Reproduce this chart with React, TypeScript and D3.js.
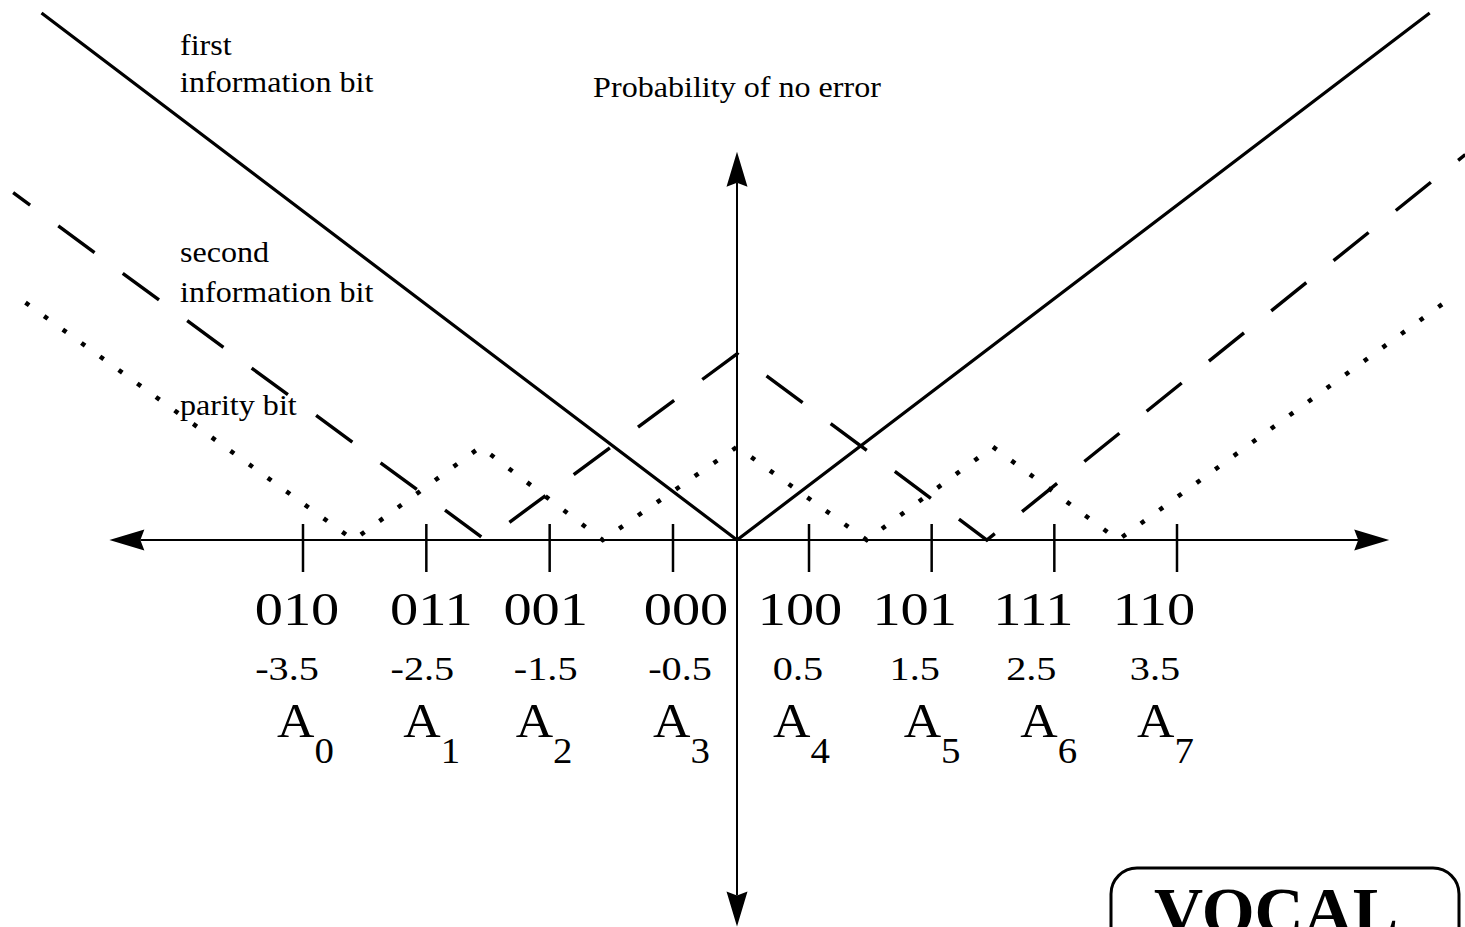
import React from "react";
import * as d3 from "d3";

// symbol labels under the amplitude axis
const codes = ["010", "011", "001", "000", "100", "101", "111", "110"];
const amplitudes = [-3.5, -2.5, -1.5, -0.5, 0.5, 1.5, 2.5, 3.5];
const subscripts = ["0", "1", "2", "3", "4", "5", "6", "7"];

// probability of no error, per bit (x = amplitude, y = relative value)
const firstBitX = [-5.62, 0, 5.56];
const firstBitY = [5.66, 0, 5.66];
const secondBitX = [-5.85, -2.02, 0, 1.95, 5.85];
const secondBitY = [3.73, 0, 2.0, 0, 4.14];
const parityBitX = [-5.75, -3.09, -2.06, -1.07, 0, 0.97, 2.0, 3.02, 5.68];
const parityBitY = [2.55, 0, 1.0, 0, 1.0, 0, 1.0, 0, 2.55];

// axis extents in data units
const xAxisExtent = [-5.07, 5.23];
const yAxisExtent = [-4.15, 4.17];

// small hand-placement nudges of the label columns (px)
const codeNudge = [-6, 5, -4, 13, -9, -17, -21, -23];
const ampNudge = [-16, -4, -4, 7, -11, -17, -23, -22];
const symNudge = [-26, -23, -34, -20, -36, -28, -34, -40];

const W = 1465;
const H = 927;
const serif = "Liberation Serif";

export default function App() {
  const x = d3
    .scaleLinear()
    .domain([-3.5, -0.5, 0, 0.5, 3.5])
    .range([303, 673, 737, 809, 1177]);
  const y = d3.scaleLinear().domain([0, 5.8]).range([540, 0]);

  const line = d3
    .line<[number, number]>()
    .x((d) => x(d[0]))
    .y((d) => y(d[1]));

  const zip = (xs: number[], ys: number[]) =>
    xs.map((v, i) => [v, ys[i]] as [number, number]);

  const x0 = x(0);
  const y0 = y(0);
  const xl = x(xAxisExtent[0]);
  const xr = x(xAxisExtent[1]);
  const yt = y(yAxisExtent[1]);
  const yb = y(yAxisExtent[0]);
  const ah = 35; // arrow length
  const aw = 10.5; // arrow half width
  const notch = 4;

  const smallText = (txt: string, tx: number, ty: number, anchor = "start") => (
    <text
      transform={`translate(${tx},${ty}) scale(1.07,1)`}
      fontSize={30}
      textAnchor={anchor}
      style={{ fontFamily: serif }}
    >
      {txt}
    </text>
  );

  return (
    <svg
      width={W}
      height={H}
      style={{ position: "absolute", left: 0, top: 0, background: "#fff" }}
    >
      <rect width={W} height={H} fill="#fff" />

      {/* axes */}
      <g stroke="#000" strokeWidth={2}>
        <line x1={xl + ah - notch} x2={xr - ah + notch} y1={y0} y2={y0} />
        <line x1={x0} x2={x0} y1={yt + ah - notch} y2={yb - ah + notch} />
      </g>
      <g fill="#000">
        <path
          d={`M${xl},${y0}L${xl + ah},${y0 - aw}L${xl + ah - notch},${y0}L${xl + ah},${y0 + aw}Z`}
        />
        <path
          d={`M${xr},${y0}L${xr - ah},${y0 - aw}L${xr - ah + notch},${y0}L${xr - ah},${y0 + aw}Z`}
        />
        <path
          d={`M${x0},${yt}L${x0 - aw},${yt + ah}L${x0},${yt + ah - notch}L${x0 + aw},${yt + ah}Z`}
        />
        <path
          d={`M${x0},${yb}L${x0 - aw},${yb - ah}L${x0},${yb - ah + notch}L${x0 + aw},${yb - ah}Z`}
        />
      </g>

      {/* ticks */}
      <g stroke="#000" strokeWidth={2.5}>
        {amplitudes.map((a) => (
          <line key={a} x1={x(a)} x2={x(a)} y1={y0 - 16} y2={y0 + 32} />
        ))}
      </g>

      {/* curves */}
      <path
        d={line(zip(firstBitX, firstBitY)) || ""}
        fill="none"
        stroke="#000"
        strokeWidth={3.2}
      />
      <path
        d={line(zip(secondBitX, secondBitY)) || ""}
        fill="none"
        stroke="#000"
        strokeWidth={3.4}
        strokeDasharray="45 35"
        strokeDashoffset={24}
      />
      <path
        d={line(zip(parityBitX, parityBitY)) || ""}
        fill="none"
        stroke="#000"
        strokeWidth={4.5}
        strokeDasharray="4.5 18.5"
      />

      {/* curve labels */}
      {smallText("first", 180, 55)}
      {smallText("information bit", 180, 92)}
      {smallText("second", 180, 262)}
      {smallText("information bit", 180, 302)}
      {smallText("parity bit", 180, 415)}
      {smallText("Probability of no error", 737, 97, "middle")}

      {/* symbol labels */}
      {codes.map((c, i) => (
        <text
          key={c}
          transform={`translate(${x(amplitudes[i]) + codeNudge[i]},625) scale(1.2,1)`}
          fontSize={47}
          textAnchor="middle"
          style={{ fontFamily: serif }}
        >
          {c}
        </text>
      ))}
      {amplitudes.map((a, i) => (
        <text
          key={a}
          transform={`translate(${x(a) + ampNudge[i]},680) scale(1.22,1)`}
          fontSize={33}
          textAnchor="middle"
          style={{ fontFamily: serif }}
        >
          {a}
        </text>
      ))}
      {subscripts.map((s, i) => (
        <text
          key={s}
          transform={`translate(${x(amplitudes[i]) + symNudge[i]},737) scale(1.08,1)`}
          fontSize={48}
          style={{ fontFamily: serif }}
        >
          A
          <tspan fontSize={36} dy={26}>
            {s}
          </tspan>
        </text>
      ))}

      {/* VOCAL box */}
      <rect
        x={1111}
        y={868}
        width={348}
        height={120}
        rx={26}
        fill="none"
        stroke="#000"
        strokeWidth={3}
      />
      <text
        x={1276}
        y={934}
        fontSize={68}
        fontWeight="bold"
        textAnchor="middle"
        style={{ fontFamily: serif }}
      >
        VOCAL
      </text>
    </svg>
  );
}
